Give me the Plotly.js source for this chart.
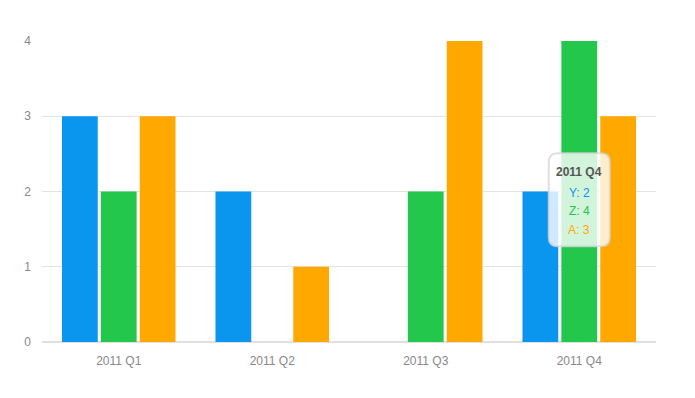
<!DOCTYPE html>
<html>
<head>
<meta charset="utf-8">
<script src="https://cdn.plot.ly/plotly-3.0.1.min.js"></script>
<style>html,body{margin:0;padding:0;background:#fff;}#chart{width:695px;height:398px;}</style>
</head>
<body>
<div id="chart"></div>
<script>
var categories = ['2011 Q1', '2011 Q2', '2011 Q3', '2011 Q4'];
var seriesNames = ['Y', 'Z', 'A'];
var valuesY = [3, 2, 0, 2];
var valuesZ = [2, 0, 2, 4];
var valuesA = [3, 1, 4, 3];
var yTicks = [0, 1, 2, 3, 4];
var colors = ['#0a95ef', '#22c74b', '#ffa800'];
var tooltipIndex = 3;

var allValues = [valuesY, valuesZ, valuesA];
var traces = allValues.map(function (vals, i) {
  return {
    type: 'bar', name: seriesNames[i], x: categories, y: vals,
    marker: {color: colors[i], line: {width: 0}},
    hoverinfo: 'none'
  };
});

// tooltip box (rounded) anchored at the hovered category
var w = 61, h = 93, r = 9;
var x0 = -w / 2, x1 = w / 2, y0 = -h / 2, y1 = h / 2;
var path = 'M ' + (x0 + r) + ' ' + y0 + ' L ' + (x1 - r) + ' ' + y0 + ' Q ' + x1 + ' ' + y0 + ' ' + x1 + ' ' + (y0 + r) +
  ' L ' + x1 + ' ' + (y1 - r) + ' Q ' + x1 + ' ' + y1 + ' ' + (x1 - r) + ' ' + y1 +
  ' L ' + (x0 + r) + ' ' + y1 + ' Q ' + x0 + ' ' + y1 + ' ' + x0 + ' ' + (y1 - r) +
  ' L ' + x0 + ' ' + (y0 + r) + ' Q ' + x0 + ' ' + y0 + ' ' + (x0 + r) + ' ' + y0 + ' Z';
var tipY = 1.89;
var shapes = [{
  type: 'path', xref: 'x', yref: 'y', xsizemode: 'pixel', ysizemode: 'pixel',
  xanchor: tooltipIndex, yanchor: tipY, path: path,
  fillcolor: 'rgba(255,255,255,0.8)', line: {color: 'rgba(215,215,215,0.8)', width: 2}, layer: 'above'
}];
var tipFont = 'Liberation Sans, Arial, sans-serif';
var annotations = [{
  x: categories[tooltipIndex], y: tipY, xref: 'x', yref: 'y', yshift: 28, showarrow: false,
  text: '<b>' + categories[tooltipIndex] + '</b>', font: {family: tipFont, size: 12, color: '#555555'}
}];
allValues.forEach(function (vals, i) {
  annotations.push({
    x: categories[tooltipIndex], y: tipY, xref: 'x', yref: 'y', yshift: 7 - i * 18.5, showarrow: false,
    text: seriesNames[i] + ': ' + vals[tooltipIndex],
    font: {family: tipFont, size: 12, color: colors[i]}
  });
});

var layout = {
  width: 695, height: 398,
  margin: {l: 42, r: 39, t: 41, b: 56},
  paper_bgcolor: '#ffffff', plot_bgcolor: '#ffffff',
  font: {family: tipFont, size: 12, color: '#888888'},
  showlegend: false,
  barmode: 'group', bargap: 0.24, bargroupgap: 0.08,
  xaxis: {type: 'category', showgrid: false, showline: false, zeroline: false, ticks: '',
    ticklabelstandoff: 10, tickfont: {size: 12, color: '#888888'}},
  yaxis: {range: [0, 4], tickvals: yTicks, showgrid: true, gridcolor: '#e3e3e3', gridwidth: 1,
    zeroline: true, zerolinecolor: '#e0e0e0', zerolinewidth: 2, showline: false, ticks: '',
    ticklabelstandoff: 10, tickfont: {size: 12, color: '#888888'}},
  shapes: shapes,
  annotations: annotations
};
Plotly.newPlot('chart', traces, layout, {displayModeBar: false, staticPlot: true});
</script>
</body>
</html>
